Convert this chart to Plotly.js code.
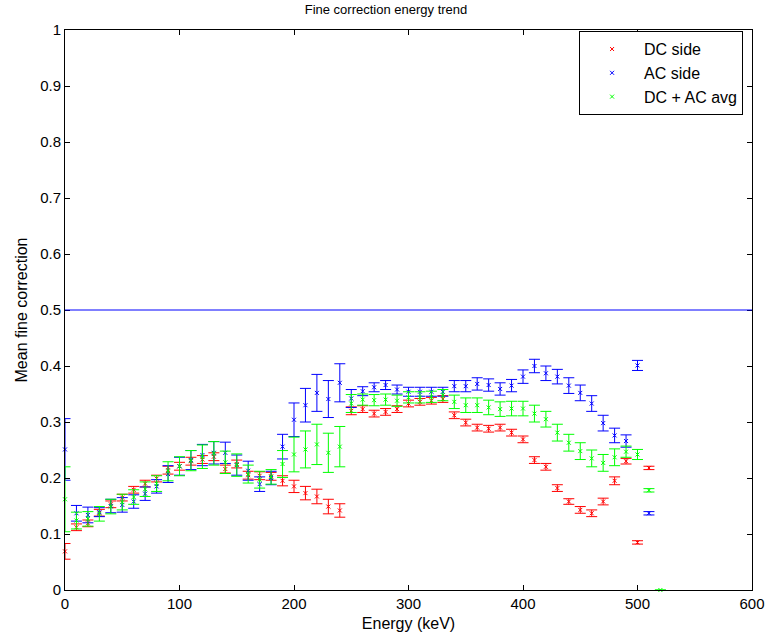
<!DOCTYPE html>
<html>
<head>
<meta charset="utf-8">
<script src="https://cdn.plot.ly/plotly-3.0.1.min.js"></script>
<style>html,body{margin:0;padding:0;background:#fff;}#chart{width:768px;height:640px;}</style>
</head>
<body>
<div id="chart"></div>
<script>
const energy = [0,10,20,30,40,50,60,70,80,90,100,110,120,130,140,150,160,170,180,190,200,210,220,230,240,250,260,270,280,290,300,310,320,330,340,350,360,370,380,390,400,410,420,430,440,450,460,470,480,490,500,510,520];

const dcSide = [0.069,0.112,0.119,0.138,0.153,0.165,0.179,0.190,0.199,0.214,0.221,0.230,0.233,0.238,0.216,0.225,0.205,0.204,0.203,0.195,0.185,0.173,0.167,0.149,0.142,0.320,0.323,0.315,0.318,0.323,0.333,0.336,0.338,0.341,0.312,0.299,0.290,0.288,0.290,0.281,0.269,0.232,0.220,0.182,0.158,0.143,0.137,0.158,0.195,0.230,0.085,0.218,null];
const dcErr = [0.014,0.006,0.006,0.006,0.006,0.006,0.006,0.006,0.006,0.007,0.007,0.007,0.007,0.007,0.007,0.007,0.007,0.007,0.007,0.009,0.011,0.012,0.013,0.013,0.012,0.007,0.006,0.006,0.006,0.006,0.006,0.006,0.006,0.006,0.006,0.006,0.006,0.006,0.006,0.006,0.006,0.006,0.006,0.006,0.005,0.006,0.006,0.006,0.007,0.005,0.003,0.003,null];

const acSide = [0.251,0.137,0.134,0.139,0.150,0.152,0.158,0.172,0.185,0.207,0.221,0.232,0.241,0.245,0.245,0.223,0.213,0.189,0.200,0.256,0.304,0.330,0.352,0.341,0.370,0.342,0.355,0.362,0.366,0.358,0.354,0.354,0.354,0.354,0.364,0.364,0.368,0.366,0.359,0.365,0.381,0.400,0.387,0.381,0.365,0.352,0.333,0.298,0.276,0.266,0.401,0.137,null];
const acErr = [0.055,0.014,0.014,0.008,0.012,0.013,0.012,0.012,0.012,0.015,0.016,0.017,0.019,0.020,0.019,0.018,0.017,0.013,0.012,0.022,0.030,0.030,0.033,0.033,0.034,0.016,0.008,0.008,0.008,0.008,0.008,0.008,0.008,0.008,0.010,0.010,0.011,0.011,0.011,0.011,0.012,0.012,0.013,0.013,0.014,0.014,0.014,0.014,0.013,0.011,0.009,0.003,null];

const avgSide = [0.162,0.124,0.127,0.136,0.149,0.157,0.166,0.180,0.190,0.212,0.221,0.231,0.238,0.244,0.228,0.223,0.207,0.197,0.202,0.225,0.242,0.251,0.260,0.245,0.256,0.333,0.340,0.339,0.340,0.338,0.344,0.344,0.345,0.348,0.336,0.330,0.330,0.326,0.323,0.324,0.324,0.315,0.305,0.281,0.263,0.248,0.235,0.227,0.237,0.247,0.242,0.178,0.000];
const avgErr = [0.058,0.015,0.013,0.013,0.013,0.014,0.013,0.013,0.014,0.017,0.017,0.018,0.021,0.021,0.020,0.020,0.016,0.015,0.013,0.024,0.031,0.033,0.036,0.035,0.036,0.016,0.010,0.010,0.010,0.010,0.010,0.010,0.010,0.010,0.012,0.013,0.013,0.013,0.013,0.013,0.013,0.015,0.014,0.015,0.015,0.015,0.015,0.015,0.015,0.010,0.009,0.003,0.000];

const seriesNames = ["DC side","AC side","DC + AC avg"];
const referenceLevel = 0.5;
const xTicks = [0,100,200,300,400,500,600];
const yTicks = [0,0.1,0.2,0.3,0.4,0.5,0.6,0.7,0.8,0.9,1];

function mk(y, err, name, color, group) {
  return {
    x: energy, y: y, name: name, type: 'scatter', mode: 'markers',
    legendgroup: group, cliponaxis: false,
    marker: {symbol: 'x-thin-open', size: 4, color: color, line: {color: color, width: 1}},
    error_y: {type: 'data', array: err, visible: true, color: color, thickness: 1, width: 5.5}
  };
}

const data = [
  mk(dcSide, dcErr, seriesNames[0], '#ff0000', 'a'),
  mk(acSide, acErr, seriesNames[1], '#0000ff', 'b'),
  mk(avgSide, avgErr, seriesNames[2], '#00ff00', 'c')
];

const font = {family: 'Liberation Sans, Arial, Helvetica, sans-serif', color: '#000'};
const f = s => Object.assign({size: s}, font);

const layout = {
  width: 768, height: 640,
  margin: {l: 65, r: 16, t: 30, b: 50},
  paper_bgcolor: '#fff', plot_bgcolor: '#fff',
  font: f(15),
  title: {text: 'Fine correction energy trend', font: f(13), x: 0.5026, xref: 'container', xanchor: 'center', y: 1, yref: 'container', yanchor: 'top', pad: {t: 5}},
  xaxis: {
    range: [0, 600], tickvals: xTicks, ticktext: xTicks.map(String),
    ticks: 'inside', ticklen: 5, tickcolor: '#000', showline: true, linecolor: '#000', linewidth: 1,
    mirror: 'ticks', showgrid: false, zeroline: false,
    tickfont: f(15),
    title: {text: 'Energy (keV)', font: f(16), standoff: 6}
  },
  yaxis: {
    range: [0, 1], tickvals: yTicks, ticktext: yTicks.map(String),
    ticks: 'inside', ticklen: 5, tickcolor: '#000', showline: true, linecolor: '#000', linewidth: 1,
    mirror: 'ticks', showgrid: false, zeroline: false,
    tickfont: f(15),
    title: {text: 'Mean fine correction', font: f(16), standoff: 8}
  },
  shapes: [{type: 'line', xref: 'paper', x0: 0, x1: 1, yref: 'y', y0: referenceLevel, y1: referenceLevel, line: {color: '#0000ff', width: 1}}],
  legend: {
    x: 0.987, xanchor: 'right', y: 0.998, yanchor: 'top',
    bgcolor: '#fff', bordercolor: '#000', borderwidth: 1,
    font: f(16), tracegroupgap: 0, itemwidth: 54
  },
  showlegend: true
};

Plotly.newPlot('chart', data, layout, {displayModeBar: false, staticPlot: true});
</script>
</body>
</html>
